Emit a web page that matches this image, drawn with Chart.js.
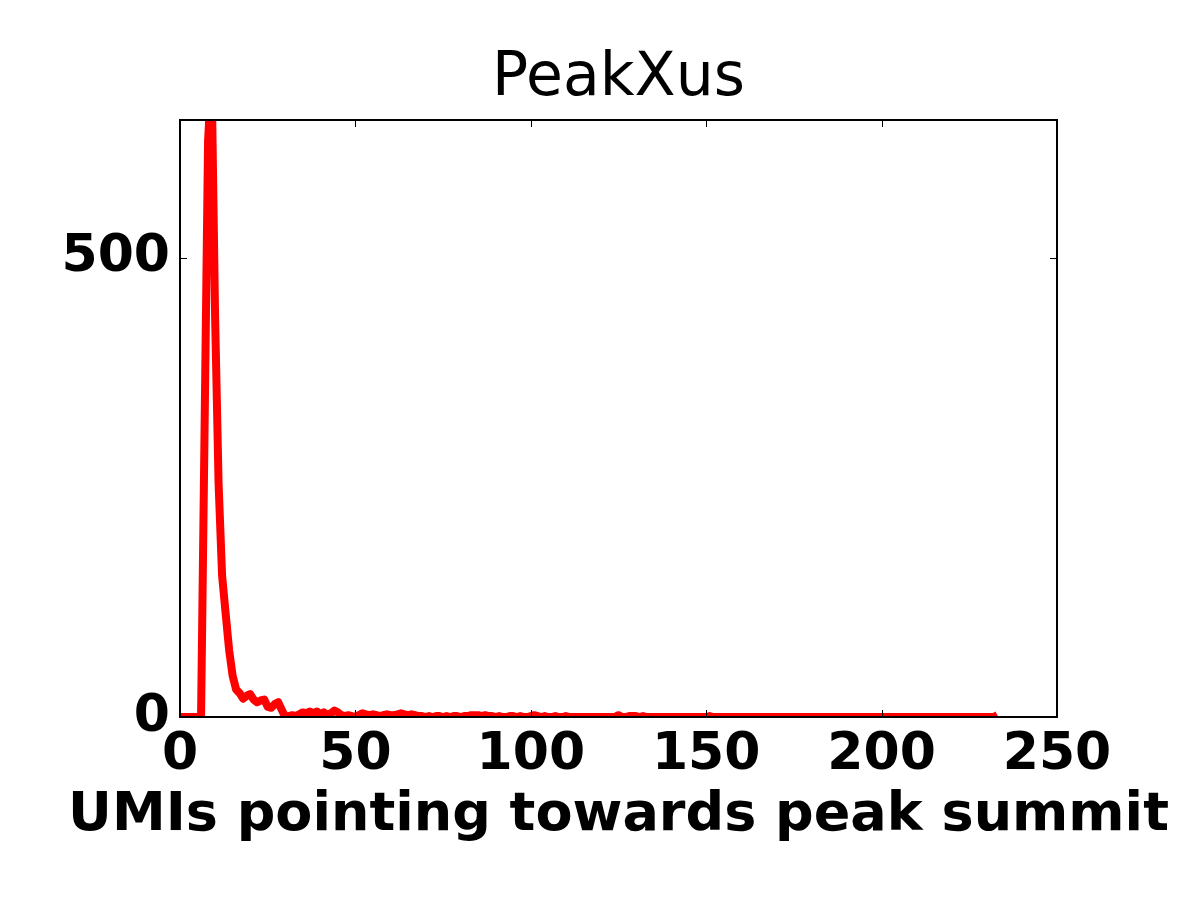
<!DOCTYPE html>
<html>
<head>
<meta charset="utf-8">
<title>PeakXus</title>
<script src="https://cdn.jsdelivr.net/npm/chart.js@4/dist/chart.umd.min.js"></script>
<style>
  body { margin: 0; background: #fff; }
  #wrap { width: 1200px; height: 900px; }
</style>
</head>
<body>
<div id="wrap"><canvas id="peakChart" width="1200" height="900"></canvas></div>
<script>
// UMI counts per bin (bin = number of UMIs pointing towards the summit, 0..233)
const umiCounts = [
  0, 0, 0, 0, 0, 0, 0, 312, 627, 702,
  437, 254, 154, 113, 73, 45, 30, 26, 20, 23,
  25, 19, 16, 18, 19, 11, 10, 14, 16, 8,
  0, 1, 2, 1, 3, 5, 4, 6, 4, 6,
  3, 5, 2, 4, 7, 5, 2, 1, 2, 1,
  0, 2, 4, 3, 2, 3, 2, 1, 2, 3,
  2, 2, 3, 4, 3, 2, 3, 2, 1, 1,
  0, 1, 0, 1, 1, 0, 1, 0, 1, 1,
  0, 1, 1, 2, 2, 2, 1, 2, 1, 1,
  0, 1, 0, 0, 1, 1, 0, 1, 0, 0,
  1, 2, 1, 0, 1, 0, 0, 1, 0, 0,
  1, 0, 0, 0, 0, 0, 0, 0, 0, 0,
  0, 0, 0, 0, 0, 2, 0, 0, 1, 1,
  1, 0, 1, 0, 0, 0, 0, 0, 0, 0,
  0, 0, 0, 0, 0, 0, 0, 0, 0, 0,
  0, 1, 0, 0, 0, 0, 0, 0, 0, 0,
  0, 0, 0, 0, 0, 0, 0, 0, 0, 0,
  0, 0, 0, 0, 0, 0, 0, 0, 0, 0,
  0, 0, 0, 0, 0, 0, 0, 0, 0, 0,
  0, 0, 0, 0, 0, 0, 0, 0, 0, 0,
  0, 0, 0, 0, 0, 0, 0, 0, 0, 0,
  0, 0, 0, 0, 0, 0, 0, 0, 0, 0,
  0, 0, 0, 0, 0, 0, 0, 0, 0, 0,
  0, 0, 0, 2
];
const xTicks = [0, 50, 100, 150, 200, 250];
const yTicks = [0, 500];
const chartTitle = 'PeakXus';
const xLabel = 'UMIs pointing towards peak summit';

const points = umiCounts.map((v, i) => ({ x: i, y: v }));

// black frame + inward ticks on all four sides (matplotlib classic look)
// the x label is drawn here too, because the scale title would squeeze it to the axis width
const frameTicks = {
  id: 'frameTicks',
  afterDatasetsDraw(chart) {
    const { ctx, chartArea: a, scales: { x, y } } = chart;
    const len = 7;
    ctx.save();
    ctx.strokeStyle = '#000';
    ctx.lineWidth = 1;
    ctx.beginPath();
    xTicks.forEach(v => {
      const px = Math.round(x.getPixelForValue(v)) + 0.5;
      ctx.moveTo(px, a.bottom); ctx.lineTo(px, a.bottom - len);
      ctx.moveTo(px, a.top); ctx.lineTo(px, a.top + len);
    });
    yTicks.forEach(v => {
      const py = Math.round(y.getPixelForValue(v)) + 0.5;
      ctx.moveTo(a.left, py); ctx.lineTo(a.left + len, py);
      ctx.moveTo(a.right, py); ctx.lineTo(a.right - len, py);
    });
    ctx.stroke();
    ctx.lineWidth = 2;
    ctx.strokeRect(a.left, a.top, a.right - a.left, a.bottom - a.top);

    ctx.fillStyle = '#000';
    ctx.font = 'bold 54px "DejaVu Sans"';
    ctx.textAlign = 'center';
    ctx.textBaseline = 'alphabetic';
    ctx.fillText(xLabel, (a.left + a.right) / 2, a.bottom + 113);
    ctx.restore();
  }
};

const tickFont = { family: 'DejaVu Sans', size: 52, weight: 'bold' };

const chart = new Chart(document.getElementById('peakChart'), {
  type: 'line',
  data: {
    datasets: [{
      data: points,
      borderColor: '#ff0000',
      borderWidth: 8,
      borderJoinStyle: 'round',
      pointRadius: 0,
      tension: 0,
      fill: false,
      clip: 0
    }]
  },
  options: {
    responsive: false,
    animation: false,
    layout: { padding: { left: 0, right: 143, top: 0, bottom: 0 } },
    plugins: {
      legend: { display: false },
      tooltip: { enabled: false },
      title: {
        display: true,
        fullSize: false,
        text: chartTitle,
        color: '#000',
        font: { family: 'DejaVu Sans', size: 60, weight: 'normal' },
        padding: { top: 43.2, bottom: 4.8 }
      }
    },
    scales: {
      x: {
        type: 'linear',
        min: 0,
        max: 250,
        afterBuildTicks: s => { s.ticks = xTicks.map(v => ({ value: v })); },
        afterFit: s => { s.height = 183; },
        grid: { display: false, drawTicks: false },
        border: { display: false },
        ticks: { color: '#000', font: tickFont, padding: 7, maxRotation: 0, autoSkip: false }
      },
      y: {
        type: 'linear',
        min: 0,
        max: 650,
        afterBuildTicks: s => { s.ticks = yTicks.map(v => ({ value: v })); },
        afterFit: s => { s.width = 180; },
        grid: { display: false, drawTicks: false },
        border: { display: false },
        ticks: { color: '#000', font: tickFont, padding: 10 }
      }
    }
  },
  plugins: [frameTicks]
});
</script>
</body>
</html>
